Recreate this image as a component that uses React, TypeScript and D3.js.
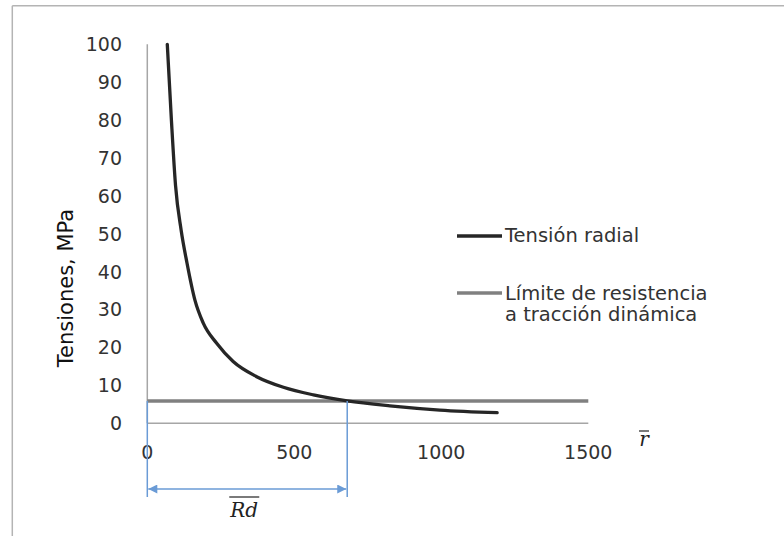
import React from "react";
import * as d3 from "d3";

// Radial stress curve (r̄, MPa)
const radius: number[] = [68, 82, 96, 115, 135, 162, 190, 236, 292, 372, 463, 565, 680, 825, 995, 1190];
const stress: number[] = [100, 80, 62.8, 51, 42.3, 32.5, 26.5, 21.1, 16.3, 12.3, 9.5, 7.5, 5.9, 4.6, 3.5, 2.8];

// Dynamic tensile strength limit (horizontal line)
const limitR: number[] = [0, 1500];
const limitValue: number[] = [5.9, 5.9];

// Rd annotation value
const rdValue = 680;

const yTicks: number[] = [0, 10, 20, 30, 40, 50, 60, 70, 80, 90, 100];
const xTicks: number[] = [0, 500, 1000, 1500];

const seriesNames: string[] = ["Tensión radial", "Límite de resistencia", "a tracción dinámica"];
const yTitle = "Tensiones, MPa";

const W = 784;
const H = 536;
const FONT = "'DejaVu Sans', sans-serif";

export default function App() {
  const x = d3.scaleLinear().domain([0, 1500]).range([147.3, 588.3]);
  const y = d3.scaleLinear().domain([0, 100]).range([423.3, 44.3]);

  const curve = d3
    .line<number>()
    .x((_, i) => x(radius[i]))
    .y((d) => y(d))
    .curve(d3.curveMonotoneX)(stress) as string;

  const limit = d3
    .line<number>()
    .x((_, i) => x(limitR[i]))
    .y((d) => y(d))(limitValue) as string;

  const blue = "#6a9bd6";
  const yLimit = y(limitValue[0]);
  const arrowY = 489;
  const annBottom = 497;
  const rdMid = (x(0) + x(rdValue)) / 2;

  return (
    <svg
      width={W}
      height={H}
      style={{ position: "absolute", left: 0, top: 0, background: "#fff" }}
    >
      <defs>
        <marker id="arr" viewBox="0 0 10 10" refX="10" refY="5" markerWidth="11" markerHeight="9" markerUnits="userSpaceOnUse" orient="auto-start-reverse">
          <path d="M0,0 L10,5 L0,10 z" fill={blue} />
        </marker>
      </defs>
      {/* frame */}
      <line x1={12.3} x2={W} y1={5.7} y2={5.7} stroke="#b4b4b4" strokeWidth={1.5} />
      <line x1={12.3} x2={12.3} y1={5.7} y2={H} stroke="#b4b4b4" strokeWidth={1.5} />

      {/* axes */}
      <line x1={x(0)} x2={x(0)} y1={y(100)} y2={y(0)} stroke="#a6a6a6" strokeWidth={1.5} />
      <line x1={x(0)} x2={x(1500)} y1={y(0)} y2={y(0)} stroke="#a6a6a6" strokeWidth={1.5} />

      {yTicks.map((t) => (
        <text key={"y" + t} x={122} y={y(t)} dy="0.36em" textAnchor="end" fontFamily={FONT} fontSize={19} fill="#333">
          {t}
        </text>
      ))}
      {xTicks.map((t) => (
        <text key={"x" + t} x={x(t)} y={459} textAnchor="middle" fontFamily={FONT} fontSize={19} fill="#333">
          {t}
        </text>
      ))}

      <text transform={`translate(73,288) rotate(-90)`} textAnchor="middle" fontFamily={FONT} fontSize={21} fill="#111">
        {yTitle}
      </text>

      {/* r̄ axis label */}
      <text x={644} y={446} textAnchor="middle" fontFamily="'DejaVu Serif', serif" fontStyle="italic" fontSize={20} fill="#222">
        r
      </text>
      <line x1={639} x2={649} y1={431} y2={431} stroke="#222" strokeWidth={1.2} />

      {/* limit line */}
      <path d={limit} fill="none" stroke="#808080" strokeWidth={3.5} />
      {/* radial stress */}
      <path d={curve} fill="none" stroke="#262626" strokeWidth={3.3} strokeLinejoin="round" strokeLinecap="round" />

      {/* Rd annotation */}
      <line x1={x(0)} x2={x(0)} y1={yLimit} y2={annBottom} stroke={blue} strokeWidth={1.5} />
      <line x1={x(rdValue)} x2={x(rdValue)} y1={yLimit} y2={annBottom} stroke={blue} strokeWidth={1.5} />
      <line x1={x(0) + 1} x2={x(rdValue) - 1} y1={arrowY} y2={arrowY} stroke={blue} strokeWidth={1.5} markerStart="url(#arr)" markerEnd="url(#arr)" />
      <text x={rdMid - 3} y={517} textAnchor="middle" fontFamily="'DejaVu Serif', serif" fontStyle="italic" fontSize={20} fill="#222">
        Rd
      </text>
      <line x1={rdMid - 18} x2={rdMid + 12} y1={497} y2={497} stroke="#222" strokeWidth={1.2} />

      {/* legend */}
      <line x1={457} x2={502} y1={236} y2={236} stroke="#262626" strokeWidth={3.5} />
      <text x={505} y={242} fontFamily={FONT} fontSize={19.5} fill="#333">
        {seriesNames[0]}
      </text>
      <line x1={457} x2={502} y1={293} y2={293} stroke="#808080" strokeWidth={3.5} />
      <text x={505} y={300} fontFamily={FONT} fontSize={19.5} fill="#333">
        {seriesNames[1]}
      </text>
      <text x={505} y={321} fontFamily={FONT} fontSize={19.5} fill="#333">
        {seriesNames[2]}
      </text>
    </svg>
  );
}
